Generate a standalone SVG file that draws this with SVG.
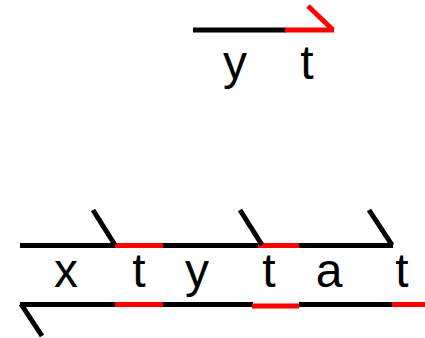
<svg xmlns="http://www.w3.org/2000/svg" width="425" height="338" viewBox="0 0 425 338">
<style>
.k{stroke:#000;stroke-width:5;fill:none}
.r{stroke:#ff0000;stroke-width:5;fill:none}
text{font-family:"Liberation Sans",Arial,sans-serif;font-size:48px;fill:#000;text-anchor:middle}
</style>
<rect width="425" height="338" fill="#fff"/>
<g id="connectors">
<line class="k" x1="193" y1="30" x2="286" y2="30"/>
<line class="r" x1="285" y1="30" x2="334" y2="30"/>
<line class="r" x1="333" y1="30" x2="308" y2="6"/>
<line class="k" x1="20" y1="245.5" x2="116" y2="245.5"/>
<line class="r" x1="115" y1="245.5" x2="163" y2="245.5"/>
<line class="k" x1="163" y1="245.5" x2="259" y2="245.5"/>
<line class="r" x1="258" y1="245.5" x2="299" y2="245.5"/>
<line class="k" x1="299" y1="245.5" x2="393" y2="245.5"/>
<line class="k" x1="115" y1="245" x2="93" y2="210"/>
<line class="k" x1="262" y1="245" x2="240" y2="210"/>
<line class="k" x1="392" y1="245" x2="369" y2="210"/>
<line class="k" x1="20" y1="304.5" x2="116" y2="304.5"/>
<line class="r" x1="115" y1="304.5" x2="163" y2="304.5"/>
<line class="k" x1="163" y1="304.5" x2="253" y2="304.5"/>
<line class="r" x1="252" y1="306" x2="299" y2="306"/>
<line class="k" x1="299" y1="304.5" x2="393" y2="304.5"/>
<line class="r" x1="392" y1="304.5" x2="425" y2="304.5"/>
<line class="k" x1="21" y1="304" x2="42" y2="336"/>
</g>
<g id="top-labels">
<text x="235" y="79">y</text>
<text x="307" y="79">t</text>
</g>
<g id="bottom-labels">
<text x="66" y="287">x</text>
<text x="139" y="287">t</text>
<text x="197" y="287">y</text>
<text x="269" y="287">t</text>
<text x="329" y="287">a</text>
<text x="402" y="287">t</text>
</g>
</svg>
